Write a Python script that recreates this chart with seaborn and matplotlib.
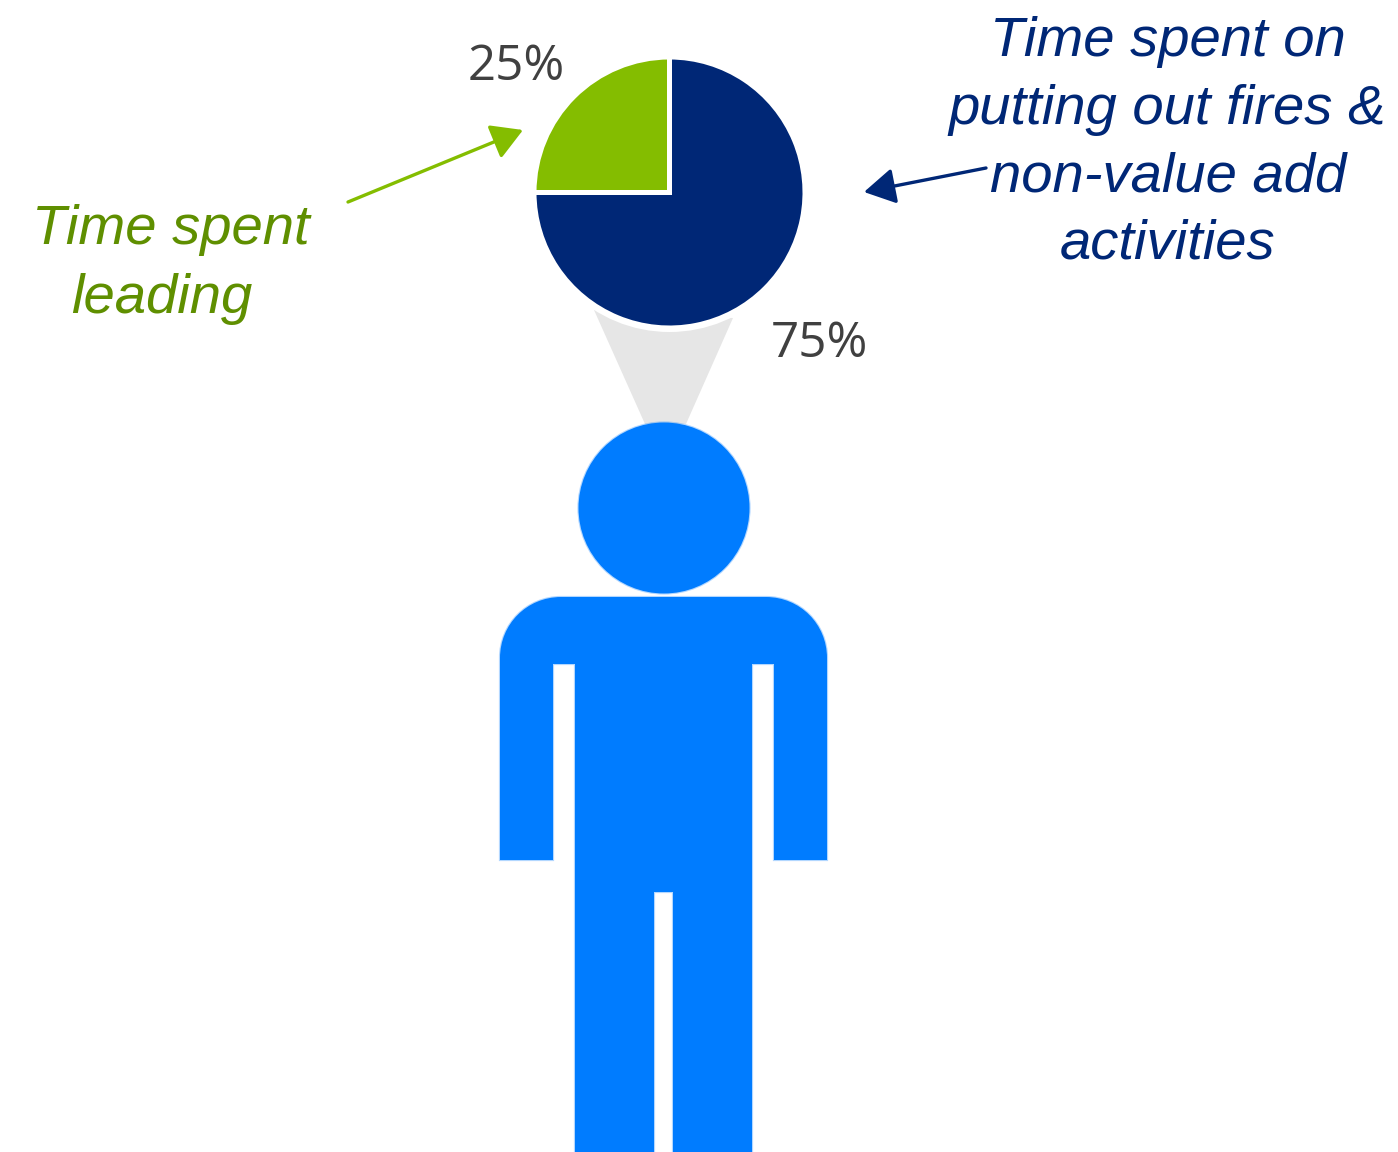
import matplotlib
matplotlib.use("Agg")
import matplotlib.pyplot as plt
import seaborn as sns
from matplotlib.patches import Circle, Polygon, PathPatch
from matplotlib.path import Path

# Share of a leader's working time
segments = ["Time spent leading", "Time spent on putting out fires"]
shares = [25, 75]
share_labels = ["25%", "75%"]
green_caption = ["Time spent", "leading"]
navy_caption = ["Time spent on", "putting out fires &", "non-value add", "activities"]

NAVY = "#002776"
GREEN = "#84BD00"
GREEN_TEXT = "#5F8F00"
BLUE = "#007CFF"
GREY = "#E6E6E6"
LABEL = "#404040"

sns.set_theme(style="white")
plt.rcParams["font.family"] = ["Liberation Sans", "DejaVu Sans"]

W, H = 1398, 1152
fig = plt.figure(figsize=(W / 100, H / 100), dpi=100, facecolor="white")
canvas = fig.add_axes([0, 0, 1, 1])
canvas.set_xlim(0, W)
canvas.set_ylim(H, 0)
canvas.axis("off")

# Funnel linking the person's head to the pie, with a white halo around the pie
canvas.add_patch(Polygon([(594, 310), (733, 318), (686, 424), (645, 424)], closed=True,
                         facecolor=GREY, edgecolor="none", zorder=1))
canvas.add_patch(Circle((669.5, 192), 140, facecolor="white", edgecolor="none", zorder=2))

# Person pictogram, with a faint outline that softens its edges
soft = dict(facecolor=BLUE, edgecolor=(0, 0.486, 1, 0.3), linewidth=1.6, zorder=3)
canvas.add_patch(Circle((664, 508), 85.5, **soft))
codes = [Path.MOVETO, Path.LINETO, Path.CURVE4, Path.CURVE4, Path.CURVE4,
         Path.LINETO, Path.CURVE4, Path.CURVE4, Path.CURVE4]
vertices = [(500, 860), (500, 658), (500, 624), (527, 597), (561, 597),
            (766, 597), (800, 597), (827, 624), (827, 658)]
more = [(827, 860), (774, 860), (774, 664), (752, 664), (752, 1160), (673, 1160),
        (673, 892), (654, 892), (654, 1160), (575, 1160), (575, 664), (553, 664),
        (553, 860), (500, 860)]
vertices += more
codes += [Path.LINETO] * (len(more) - 1) + [Path.CLOSEPOLY]
canvas.add_patch(PathPatch(Path(vertices, codes), **soft))

# Pie chart on its own axes, scaled so the disc spans the right number of pixels
cx, cy, radius = 669.5, 192.5, 135.5
half = radius * 1.25
pie_ax = fig.add_axes([(cx - half) / W, 1 - (cy + half) / H, 2 * half / W, 2 * half / H])
pie_ax.pie(shares, colors=sns.color_palette([GREEN, NAVY]), startangle=90, counterclock=True,
           wedgeprops={"edgecolor": "white", "linewidth": 3.6})
pie_ax.patch.set_alpha(0)

# Percentage labels
for label, x, y in zip(share_labels, [516, 819], [67, 344]):
    canvas.text(x, y, label, fontsize=35.5, color=LABEL, family="Open Sans",
                ha="center", va="center", zorder=5)

# Captions
for i, line in enumerate(green_caption):
    canvas.text([171, 162][i], 230 + i * 69, line, fontsize=40.5, style="italic",
                color=GREEN_TEXT, ha="center", va="center", zorder=5)
for i, line in enumerate(navy_caption):
    canvas.text([1168, 1167, 1168, 1168][i], 42 + i * 67.5, line, fontsize=40.5, style="italic",
                color=NAVY, ha="center", va="center", zorder=5)

# Arrows from the captions to the pie
head = "-|>,head_length=0.95,head_width=0.55"
canvas.annotate("", xy=(523, 130), xytext=(348, 202), zorder=5,
                arrowprops=dict(arrowstyle=head, color=GREEN,
                                lw=2.4, shrinkA=0, shrinkB=0, mutation_scale=20))
canvas.annotate("", xy=(864, 192), xytext=(986, 168), zorder=5,
                arrowprops=dict(arrowstyle=head, color=NAVY,
                                lw=2.4, shrinkA=0, shrinkB=0, mutation_scale=20))

fig.savefig("out.png", dpi=100, facecolor="white")
